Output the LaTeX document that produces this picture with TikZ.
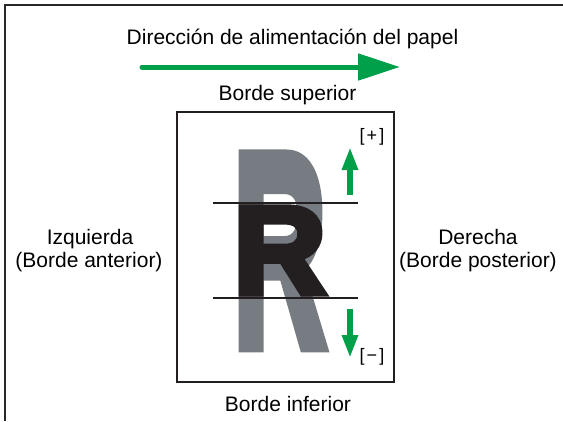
\documentclass[tikz,border=0pt]{standalone}
\usepackage{fontspec}
\setmainfont{Liberation Sans}
\newfontfamily\heavyfont[FakeBold=5]{Liberation Sans Bold}
\usetikzlibrary{arrows.meta}
\definecolor{feedgreen}{RGB}{0,160,75}
\definecolor{rgray}{RGB}{118,124,130}
\definecolor{rblack}{RGB}{35,31,32}
\definecolor{framec}{RGB}{40,40,40}
\tikzset{
  lbl/.style={anchor=base, inner sep=0pt, font=\fontsize{21}{24}\selectfont},
  sign/.style={inner sep=0pt, font=\fontsize{18}{18}\selectfont},
  bigR/.style={anchor=base west, inner sep=0pt},
  garrow/.style={draw=feedgreen, line width=6pt, -{Triangle[length=23pt,width=15pt]}},
  guide/.style={draw=rblack, line width=2pt}
}
\begin{document}
\begin{tikzpicture}[x=1pt,y=-1pt]
\useasboundingbox (0,0) rectangle (563,421);
% outer frame (top and left only)
\coordinate (fTR) at (563,5);
\coordinate (fTL) at (5,5);
\coordinate (fBL) at (5,421);
\draw[framec, line width=2pt] (fTR) -- (fTL) -- (fBL);

% title and main arrow
\node[lbl] (title) at (292.5,44) {Dirección de alimentación del papel};
\coordinate (aS) at (142,67);
\coordinate (aE) at (400,67);
\draw[feedgreen, line width=5pt, line cap=round, -{Triangle[length=42pt,width=26pt]}] (aS) -- (aE);

\node[lbl] (top) at (287.5,100) {Borde superior};
\node[lbl] (bottom) at (288,411) {Borde inferior};
\node[lbl] (left1) at (90,244) {Izquierda};
\node[lbl] (left2) at (89,267) {(Borde anterior)};
\node[lbl] (right1) at (478,244) {Derecha};
\node[lbl] (right2) at (478,267) {(Borde posterior)};

% paper
\node[draw=rblack, line width=2pt, minimum width=217pt, minimum height=270pt, inner sep=0pt] (paper) at (285.5,247) {};

% gray stretched R
\node[bigR, text=rgray] (grayR) at (233,345.5) {\resizebox{93pt}{189pt}{\heavyfont R}};
% black R
\node[bigR, text=rblack] (blackR) at (233,293.5) {\resizebox{93pt}{86pt}{\heavyfont R}};

% guide lines
\coordinate (g1a) at (213,203);
\coordinate (g1b) at (358,203);
\coordinate (g2a) at (213,298);
\coordinate (g2b) at (358,298);
\draw[guide] (g1a) -- (g1b);
\draw[guide] (g2a) -- (g2b);

% small arrows
\coordinate (uS) at (350,195);
\coordinate (uE) at (350,147);
\coordinate (dS) at (350,309);
\coordinate (dE) at (350,358);
\draw[garrow] (uS) -- (uE);
\draw[garrow] (dS) -- (dE);

\node[sign] (plus) at (372,137) {[\hspace{2pt}+\hspace{2pt}]};
\node[sign] (minus) at (372,357) {[\hspace{2pt}−\hspace{2pt}]};
\end{tikzpicture}
\end{document}
